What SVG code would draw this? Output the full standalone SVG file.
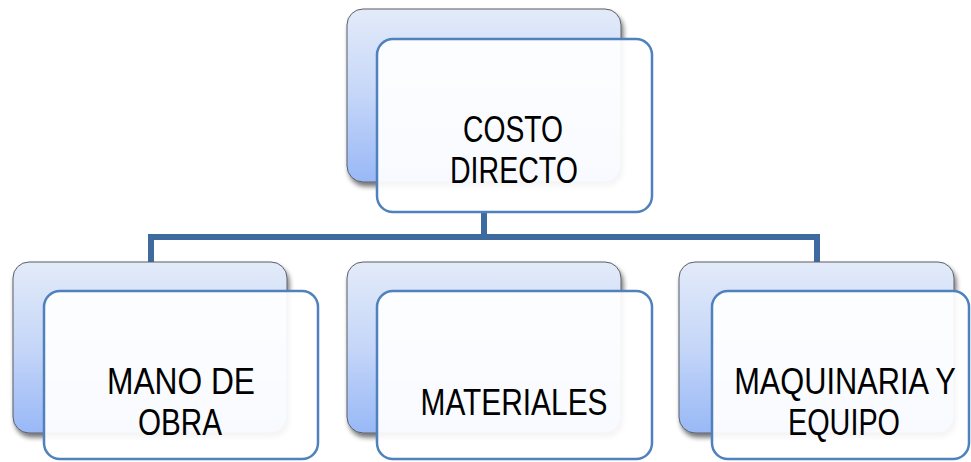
<svg xmlns="http://www.w3.org/2000/svg" width="971" height="462" viewBox="0 0 971 462">
<defs>
<linearGradient id="bg" x1="0" y1="0" x2="0" y2="1">
<stop offset="0" stop-color="#e3ebf9"/>
<stop offset="0.5" stop-color="#c5d6f8"/>
<stop offset="1" stop-color="#98b8f6"/>
</linearGradient>
<filter id="sh" x="-10%" y="-10%" width="125%" height="130%">
<feGaussianBlur in="SourceAlpha" stdDeviation="2.5"/>
<feOffset dx="2" dy="4" result="b"/>
<feComponentTransfer><feFuncA type="linear" slope="0.55"/></feComponentTransfer>
<feMerge><feMergeNode/><feMergeNode in="SourceGraphic"/></feMerge>
</filter>
</defs>
<style>
.back{fill:url(#bg);stroke:#5a5f66;stroke-width:1;filter:url(#sh)}
.front{fill:#ffffff;fill-opacity:0.93;stroke:#4f81bd;stroke-width:2.5}
.lbl{font-family:"Liberation Sans",Arial,sans-serif;font-size:37px;fill:#000;text-anchor:middle}
.conn{fill:none;stroke:#3e6aa0;stroke-width:6;stroke-linejoin:miter}
</style>
<rect width="971" height="462" fill="#fff"/>
<g id="connectors">
<path class="conn" d="M484 212 V237 M151 262 V237 H817 V262"/>
</g>
<g id="costo-directo">
<rect class="back" x="347" y="9" width="274" height="173" rx="16"/>
<rect class="front" x="377" y="39" width="275" height="173" rx="16"/>
<text class="lbl" x="513" y="142" textLength="100" lengthAdjust="spacingAndGlyphs">COSTO</text>
<text class="lbl" x="514" y="183" textLength="128" lengthAdjust="spacingAndGlyphs">DIRECTO</text>
</g>
<g id="mano-de-obra">
<rect class="back" x="13" y="262" width="274" height="171" rx="16"/>
<rect class="front" x="44" y="291" width="274" height="168" rx="16"/>
<text class="lbl" x="181" y="394" textLength="148" lengthAdjust="spacingAndGlyphs">MANO DE</text>
<text class="lbl" x="180" y="435" textLength="84" lengthAdjust="spacingAndGlyphs">OBRA</text>
</g>
<g id="materiales">
<rect class="back" x="347" y="262" width="274" height="171" rx="16"/>
<rect class="front" x="377" y="291" width="275" height="168" rx="16"/>
<text class="lbl" x="514" y="415" textLength="187" lengthAdjust="spacingAndGlyphs">MATERIALES</text>
</g>
<g id="maquinaria-y-equipo">
<rect class="back" x="679" y="262" width="275" height="171" rx="16"/>
<rect class="front" x="712" y="291" width="257" height="168" rx="16"/>
<text class="lbl" transform="translate(845,394) scale(0.832,1)" x="0" y="0">MAQUINARIA Y</text>
<text class="lbl" x="844" y="435" textLength="112" lengthAdjust="spacingAndGlyphs">EQUIPO</text>
</g>
</svg>
